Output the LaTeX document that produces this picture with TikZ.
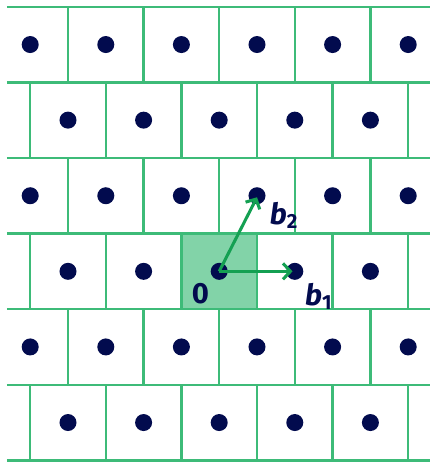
\documentclass[tikz,border=0pt]{standalone}
\usepackage{fontspec}
\setmainfont{Fira Sans}
\usetikzlibrary{arrows.meta}
\definecolor{gridgreen}{HTML}{3DBB78}
\definecolor{cellfill}{HTML}{82D3A8}
\definecolor{arrowgreen}{HTML}{14A052}
\definecolor{navy}{HTML}{020B4E}
\tikzset{
  gridline/.style={draw=gridgreen, line width=0.9pt},
  latpt/.style={circle, fill=navy, inner sep=0pt, minimum size=0.225cm},
  basis/.style={draw=arrowgreen, line width=1.15pt, -{Straight Barb[length=2.8pt,width=6pt]}},
  lbl/.style={text=navy, font=\fontsize{11}{13}\selectfont\bfseries, inner sep=0pt}
}
\begin{document}
\begin{tikzpicture}
\useasboundingbox (-2.8995,-2.522) rectangle (2.788,3.589);
\begin{scope}
\clip (-2.8995,-2.522) rectangle (2.788,3.589);
% shaded fundamental cell
\fill[cellfill] (-0.5,-0.5) rectangle (0.5,0.5);
% horizontal lines
\foreach \y in {3.5,2.5,...,-2.5}
  \draw[gridline] (-2.81,\y) -- (2.9,\y);
% vertical edges, rows with integer dots (y = 2, 0, -2)
\foreach \r in {2,0,-2}
  \foreach \x in {-2.5,-1.5,...,2.5}
    \draw[gridline] (\x,\r-0.5) -- (\x,\r+0.5);
% vertical edges, rows with half-integer dots (y = 3, 1, -1)
\foreach \r in {3,1,-1}
  \foreach \x in {-2,...,2}
    \draw[gridline] (\x,\r-0.5) -- (\x,\r+0.5);
\end{scope}
% lattice points
\foreach \r in {2,0,-2}
  \foreach \x in {-2,...,2}
    \node[latpt] (p\x\r) at (\x,\r) {};
\foreach \r in {3,1,-1}
  \foreach \x in {-2.5,-1.5,...,2.5}
    \node[latpt] at (\x,\r) {};
\coordinate (o) at (0,0);
\coordinate (e1) at (0.97,0);
\coordinate (e2) at (0.5,0.98);
\draw[basis] (o) -- (e1);
\draw[basis] (o) -- (e2);
\node[lbl] (zero) at (-0.25,-0.3) {0};
\node[lbl] (b1) at (1.32,-0.33) {\itshape b\textsubscript{\upshape 1}};
\node[lbl] (b2) at (0.86,0.74) {\itshape b\textsubscript{\upshape 2}};
\end{tikzpicture}
\end{document}
